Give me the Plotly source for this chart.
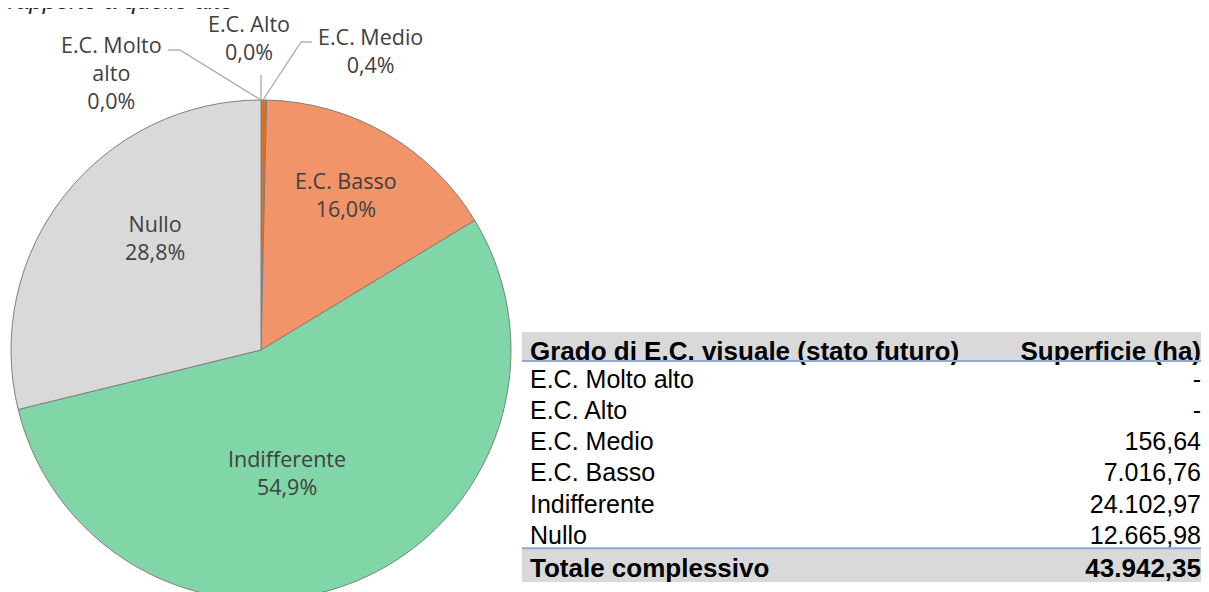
import plotly.graph_objects as go

# ---- data ----
categories = ["E.C. Molto alto", "E.C. Alto", "E.C. Medio", "E.C. Basso", "Indifferente", "Nullo"]
pie_labels = ["E.C. Molto<br>alto", "E.C. Alto", "E.C. Medio", "E.C. Basso", "Indifferente", "Nullo"]
superficie = [0.0, 0.0, 156.64, 7016.76, 24102.97, 12665.98]
colors = ["#A5A5A5", "#C55A11", "#E0701E", "#F19469", "#80D6A6", "#D9D9D9"]
header = ["Grado di E.C. visuale (stato futuro)", "Superficie (ha)"]
total_label = "Totale complessivo"
title_text = "rapporto a quello alto"

total = sum(superficie)


def it_num(v):
    if v == 0:
        return "-"
    s = f"{v:,.2f}"
    return s.replace(",", "X").replace(".", ",").replace("X", ".")


def it_pct(v):
    return f"{v / total * 100:.1f}".replace(".", ",") + "%"


W, H = 1209, 592
OFF = 8  # page body margin


def P(x, y):
    """page pixel -> paper coords"""
    return (x - OFF) / W, 1 - (y - OFF) / H


fig = go.Figure()

# ---- pie ----
fig.add_trace(go.Pie(
    labels=categories,
    values=superficie,
    sort=False,
    direction="clockwise",
    rotation=0,
    marker=dict(colors=colors, line=dict(color="#7F7F7F", width=1)),
    textinfo="none",
    hoverinfo="label+percent",
    showlegend=False,
    domain=dict(x=[3 / W, 503 / W], y=[0, 500 / H]),
))

# ---- table ----
ROW = 31.2
HEAD = 29
TOP = 332  # page y of table top
n = len(categories)
tfont = dict(family="Liberation Sans, Arial", color="black")
xdom = [514 / W, 1201 / W]
body_bottom = TOP + HEAD + n * ROW
fig.add_trace(go.Table(
    domain=dict(x=xdom, y=[1 - (body_bottom - OFF) / H, 1 - (TOP - OFF) / H]),
    columnwidth=[478, 208],
    header=dict(
        values=header,
        align=["left", "right"],
        fill_color="#D9D9D9",
        line_color="#D9D9D9",
        font=dict(**tfont, size=26, weight=700),
        height=HEAD,
    ),
    cells=dict(
        values=[categories, [it_num(v) for v in superficie]],
        align=["left", "right"],
        fill_color="white",
        line_color="white",
        font=dict(**tfont, size=25),
        height=ROW,
    ),
))
# total row (as header-only table)
fig.add_trace(go.Table(
    domain=dict(x=xdom, y=[0, 1 - (body_bottom + 1 - OFF) / H]),
    columnwidth=[478, 208],
    header=dict(
        values=[total_label, it_num(total)],
        align=["left", "right"],
        fill_color="#D9D9D9",
        line_color="#D9D9D9",
        font=dict(**tfont, size=26, weight=700),
        height=32,
    ),
    cells=dict(values=[[], []], fill_color="white", line_color="white"),
))

# blue rules in table
for yy in [TOP + HEAD, body_bottom]:
    x0, y0 = P(522, yy)
    fig.add_shape(type="line", xref="paper", yref="paper",
                  x0=x0, x1=1.01, y0=y0, y1=y0,
                  line=dict(color="#8EA9DB", width=2))

# ---- pie labels ----
lab_font = dict(family="Open Sans, Noto Sans", size=21.5, color="#404040")
label_pos = {0: (111, 73), 1: (249, 37), 2: (370, 50),
             3: (346, 194), 4: (287, 472), 5: (155, 237)}
for i, (x, y) in label_pos.items():
    px, py = P(x, y)
    fig.add_annotation(x=px, y=py, xref="paper", yref="paper",
                       text=f"{pie_labels[i]}<br>{it_pct(superficie[i])}",
                       showarrow=False, font=lab_font, align="center",
                       xanchor="center", yanchor="middle")

# leader lines
lc = dict(color="#A6A6A6", width=1.3)


def seg(xa, ya, xb, yb):
    a = P(xa, ya)
    b = P(xb, yb)
    fig.add_shape(type="line", xref="paper", yref="paper",
                  x0=a[0], y0=a[1], x1=b[0], y1=b[1], line=lc)


seg(168, 50, 180, 50); seg(180, 50, 261, 100)
seg(261, 75, 261, 100)
seg(312, 42, 301, 42); seg(301, 42, 263, 100)

# clipped title at top
tx, ty = P(0, 16)
fig.add_annotation(x=-0.002, y=ty, xref="paper", yref="paper",
                   text=f"<i>{title_text}</i>", showarrow=False,
                   xanchor="left", yanchor="bottom",
                   font=dict(family="Liberation Sans, Arial", size=24, color="#262626"))

fig.update_layout(width=W, height=H, margin=dict(l=0, r=0, t=0, b=0),
                  paper_bgcolor="white", plot_bgcolor="white")
fig.write_html("out.html")
